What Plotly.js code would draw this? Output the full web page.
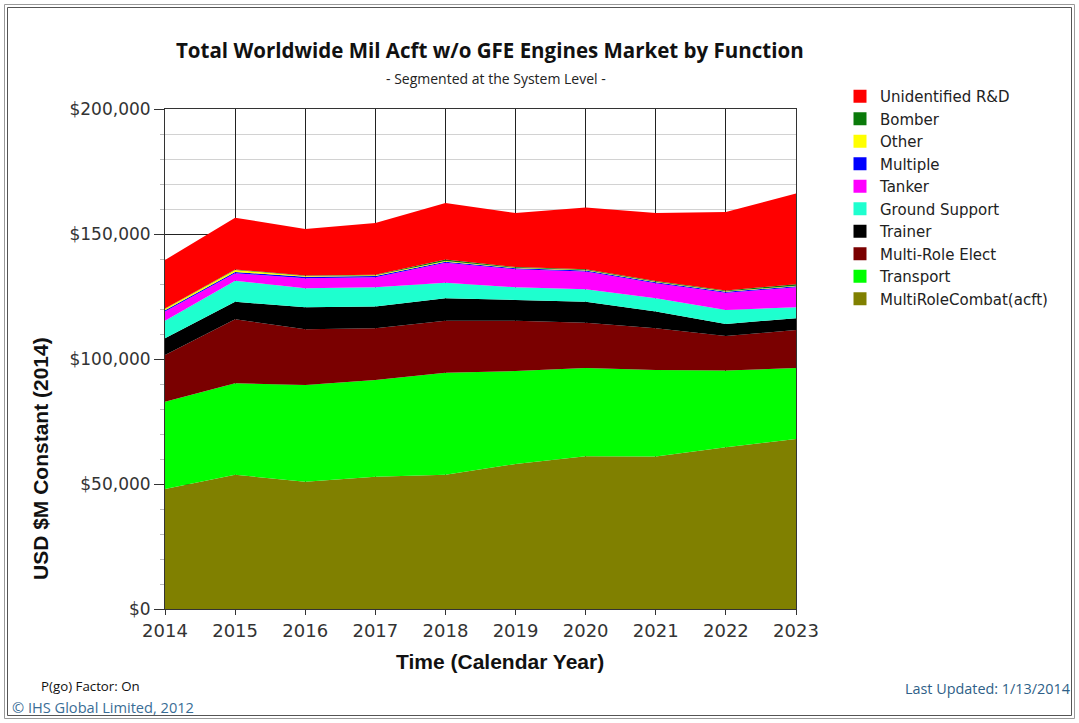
<!DOCTYPE html>
<html>
<head>
<meta charset="utf-8">
<script src="https://cdn.plot.ly/plotly-3.0.1.min.js"></script>
<style>
  html, body { margin: 0; padding: 0; background: #ffffff; }
  #chart { width: 1079px; height: 723px; }
</style>
</head>
<body>
<div id="chart"></div>
<script>
// Calendar years on the x axis
const years = [2014, 2015, 2016, 2017, 2018, 2019, 2020, 2021, 2022, 2023];

// Market value per function, USD $M constant (2014); stacked bottom to top
const multiRoleCombat = [48000, 53700, 50900, 52900, 53700, 58000, 61100, 61000, 64700, 68000];
const transport       = [34900, 36600, 38700, 38700, 40800, 37200, 35300, 34600, 30700, 28400];
const multiRoleElect  = [18700, 25600, 22300, 20700, 20800, 20100, 18100, 16700, 13800, 15200];
const trainer         = [6700, 7000, 8800, 8700, 9000, 8300, 8400, 6700, 4800, 4700];
const groundSupport   = [7000, 8400, 7600, 7700, 6200, 5100, 5000, 5300, 5600, 4400];
const tanker          = [3700, 3000, 4000, 4000, 8000, 7200, 7100, 6000, 6900, 8000];
const multiple        = [500, 500, 600, 500, 400, 400, 400, 400, 400, 400];
const other           = [600, 800, 300, 300, 300, 200, 200, 200, 200, 200];
const bomber          = [100, 200, 200, 200, 600, 300, 300, 300, 300, 600];
const unidentifiedRD  = [19400, 20700, 18600, 20700, 22600, 21600, 24700, 27200, 31400, 36300];

// Y axis tick values and their labels
const yTicks = [0, 50000, 100000, 150000, 200000];
const yTickLabels = ['$0', '$50,000', '$100,000', '$150,000', '$200,000'];

const series = [
  { name: 'MultiRoleCombat(acft)', values: multiRoleCombat, color: '#808000' },
  { name: 'Transport',             values: transport,       color: '#00ff00' },
  { name: 'Multi-Role Elect',      values: multiRoleElect,  color: '#7a0000' },
  { name: 'Trainer',               values: trainer,         color: '#000000' },
  { name: 'Ground Support',        values: groundSupport,   color: '#1effcf' },
  { name: 'Tanker',                values: tanker,          color: '#ff00ff' },
  { name: 'Multiple',              values: multiple,        color: '#0000ff' },
  { name: 'Other',                 values: other,           color: '#ffff00' },
  { name: 'Bomber',                values: bomber,          color: '#0a7a0a' },
  { name: 'Unidentified R&D',      values: unidentifiedRD,  color: '#ff0000' }
];

// Stacked areas
const areaTraces = series.map(s => ({
  type: 'scatter',
  x: years,
  y: s.values,
  name: s.name,
  stackgroup: 'market',
  mode: 'none',
  fillcolor: s.color,
  line: { width: 0 },
  showlegend: false,
  hoverinfo: 'skip'
}));

// Square legend swatches, listed top layer first
const legendTraces = series.slice().reverse().map(s => ({
  type: 'scatter',
  x: [null],
  y: [null],
  name: s.name,
  mode: 'markers',
  marker: { symbol: 'square', size: 13, color: s.color },
  showlegend: true,
  hoverinfo: 'skip'
}));

// Plot area in pixels: left 165, right 796, top 109, bottom 609
const L = 165, R = 796, T = 109, B = 609;
const px = v => (v - L) / (R - L);
const py = v => (B - v) / (B - T);

const layout = {
  width: 1079,
  height: 723,
  margin: { l: L, r: 1079 - R, t: T, b: 723 - B, pad: 0 },
  paper_bgcolor: '#ffffff',
  plot_bgcolor: '#ffffff',
  showlegend: true,
  hovermode: false,
  font: { family: 'DejaVu Sans, Verdana, sans-serif', color: '#333333' },
  xaxis: {
    range: [2014, 2023],
    tickvals: years,
    ticktext: years.map(String),
    tickfont: { family: 'DejaVu Sans, Verdana, sans-serif', size: 18, color: '#333333' },
    showgrid: true,
    gridcolor: '#222222',
    gridwidth: 1,
    showline: true,
    linecolor: '#333333',
    linewidth: 1,
    mirror: true,
    ticks: 'outside',
    ticklen: 5,
    tickcolor: '#333333',
    zeroline: false,
    fixedrange: true
  },
  yaxis: {
    range: [0, 200000],
    tickvals: yTicks,
    ticktext: yTickLabels,
    tickfont: { family: 'DejaVu Sans, Verdana, sans-serif', size: 17, color: '#333333' },
    showgrid: true,
    gridcolor: '#222222',
    gridwidth: 1,
    showline: true,
    linecolor: '#333333',
    linewidth: 1,
    mirror: true,
    ticks: 'outside',
    ticklen: 10,
    tickcolor: '#333333',
    zeroline: false,
    fixedrange: true,
    minor: {
      dtick: 10000,
      showgrid: true,
      gridcolor: '#d2d2d2',
      gridwidth: 1,
      ticks: 'outside',
      ticklen: 4,
      tickcolor: '#bbbbbb'
    }
  },
  legend: {
    x: px(840),
    y: py(80),
    xanchor: 'left',
    yanchor: 'top',
    bgcolor: 'rgba(0,0,0,0)',
    borderwidth: 0,
    font: { family: 'DejaVu Sans, Verdana, sans-serif', size: 15, color: '#222222' },
    traceorder: 'normal',
    itemsizing: 'trace',
    itemwidth: 30,
    tracegroupgap: 0
  },
  annotations: [
    {
      text: 'Total Worldwide Mil Acft w/o GFE Engines Market by Function',
      xref: 'paper', yref: 'paper', x: px(490), y: py(50),
      xanchor: 'center', yanchor: 'middle', showarrow: false,
      font: { family: 'Open Sans, sans-serif', size: 20.5, color: '#111111', weight: 'bold' }
    },
    {
      text: '- Segmented at the System Level -',
      xref: 'paper', yref: 'paper', x: px(496), y: py(79),
      xanchor: 'center', yanchor: 'middle', showarrow: false,
      font: { family: 'Open Sans, sans-serif', size: 14, color: '#222222' }
    },
    {
      text: 'Time (Calendar Year)',
      xref: 'paper', yref: 'paper', x: px(500), y: py(661),
      xanchor: 'center', yanchor: 'middle', showarrow: false,
      font: { family: 'Liberation Sans, Arial, sans-serif', size: 21, color: '#111111', weight: 'bold' }
    },
    {
      text: 'USD $M Constant (2014)',
      xref: 'paper', yref: 'paper', x: px(40), y: py(459),
      xanchor: 'center', yanchor: 'middle', showarrow: false, textangle: -90,
      font: { family: 'Liberation Sans, Arial, sans-serif', size: 21, color: '#111111', weight: 'bold' }
    },
    {
      text: 'P(go) Factor: On',
      xref: 'paper', yref: 'paper', x: px(39), y: py(686),
      xanchor: 'left', yanchor: 'middle', showarrow: false,
      font: { family: 'Open Sans, sans-serif', size: 13.3, color: '#111111' }
    },
    {
      text: '© IHS Global Limited, 2012',
      xref: 'paper', yref: 'paper', x: px(10), y: py(707),
      xanchor: 'left', yanchor: 'middle', showarrow: false,
      font: { family: 'Open Sans, sans-serif', size: 14.6, color: '#3a6d96' }
    },
    {
      text: 'Last Updated: 1/13/2014',
      xref: 'paper', yref: 'paper', x: px(1072), y: py(688),
      xanchor: 'right', yanchor: 'middle', showarrow: false,
      font: { family: 'Open Sans, sans-serif', size: 14.4, color: '#2f5f88' }
    }
  ],
  shapes: [
    {
      type: 'rect', xref: 'paper', yref: 'paper', layer: 'above',
      x0: px(4.5), x1: px(1074.5), y0: py(718.5), y1: py(4.5),
      line: { color: '#9a9a9a', width: 1 }
    },
    {
      type: 'rect', xref: 'paper', yref: 'paper', layer: 'above',
      x0: px(7.5), x1: px(1071.5), y0: py(715.5), y1: py(7.5),
      line: { color: '#555555', width: 1 }
    }
  ]
};

Plotly.newPlot('chart', areaTraces.concat(legendTraces), layout, { staticPlot: true, displayModeBar: false });
</script>
</body>
</html>
